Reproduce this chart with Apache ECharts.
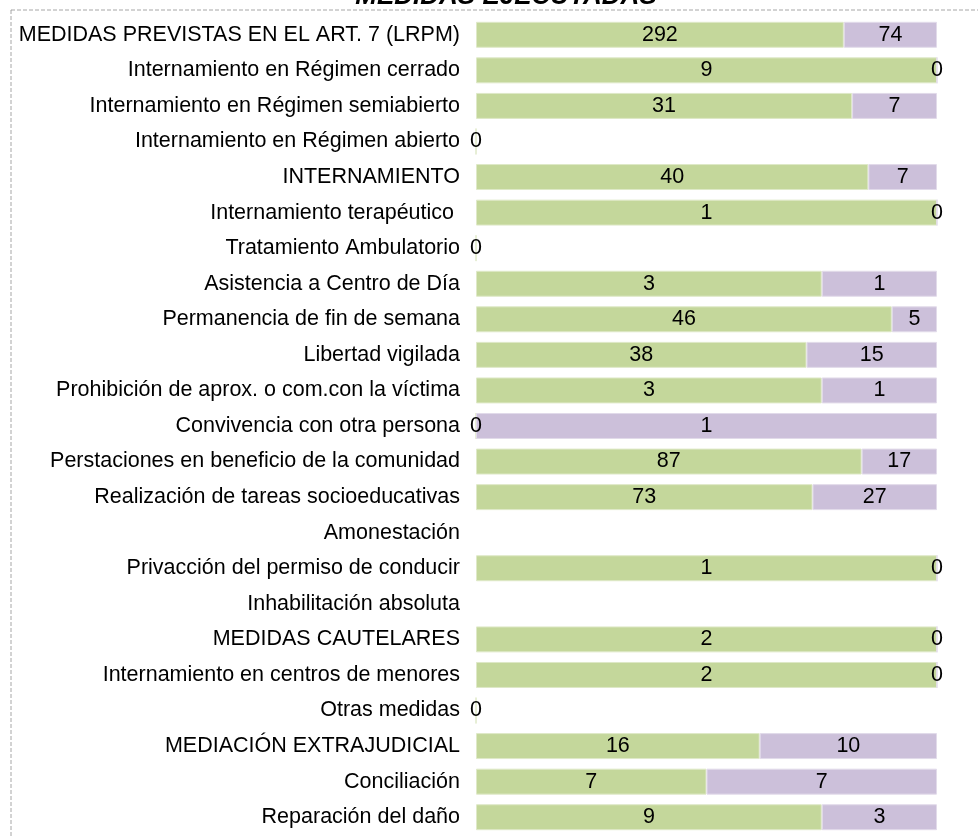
<!DOCTYPE html>
<html>
<head>
<meta charset="utf-8">
<script src="https://cdn.jsdelivr.net/npm/echarts@6/dist/echarts.min.js"></script>
<style>
  html, body { margin: 0; padding: 0; background: #fff; }
  #chart { width: 978px; height: 836px; }
</style>
</head>
<body>
<div id="chart"></div>
<script>
const categories = [
  'MEDIDAS PREVISTAS EN EL ART. 7 (LRPM)',
  'Internamiento en Régimen cerrado',
  'Internamiento en Régimen semiabierto',
  'Internamiento en Régimen abierto',
  'INTERNAMIENTO',
  'Internamiento terapéutico ',
  'Tratamiento Ambulatorio',
  'Asistencia a Centro de Día',
  'Permanencia de fin de semana',
  'Libertad vigilada',
  'Prohibición de aprox. o com.con la víctima',
  'Convivencia con otra persona',
  'Perstaciones en beneficio de la comunidad',
  'Realización de tareas socioeducativas',
  'Amonestación',
  'Privacción del permiso de conducir',
  'Inhabilitación absoluta',
  'MEDIDAS CAUTELARES',
  'Internamiento en centros de menores',
  'Otras medidas',
  'MEDIACIÓN EXTRAJUDICIAL',
  'Conciliación',
  'Reparación del daño'
]
const greenValues = [292, 9, 31, 0, 40, 1, 0, 3, 46, 38, 3, 0, 87, 73, null, 1, null, 2, 2, 0, 16, 7, 9]
const purpleValues = [74, 0, 7, null, 7, 0, null, 1, 5, 15, 1, 1, 17, 27, null, 0, null, 0, 0, null, 10, 7, 3]

const font = 'Liberation Sans, Arial, sans-serif'
const fontSize = 21.5

// 100% stacked: bar length is the share, label is the raw count
function share(values, i) {
  const v = values[i]
  if (v === null) return null
  const total = (greenValues[i] || 0) + (purpleValues[i] || 0)
  return { value: total ? v / total * 100 : 0, raw: v }
}

const chart = echarts.init(document.getElementById('chart'))
chart.setOption({
  animation: false,
  graphic: [
    {
      type: 'rect',
      shape: { x: 11, y: 10, width: 1000, height: 1000 },
      style: { fill: 'none', stroke: '#a6a6a6', lineWidth: 1, lineDash: [4, 2] },
      z: -1
    },
    {
      type: 'text',
      x: 506,
      y: -3,
      style: {
        text: 'MEDIDAS EJECUTADAS',
        font: 'italic bold 26px ' + font,
        fill: '#000',
        textAlign: 'center',
        textVerticalAlign: 'middle'
      }
    }
  ],
  grid: { left: 476, right: 41, top: 17, bottom: 1, containLabel: false },
  xAxis: {
    type: 'value',
    min: 0,
    max: 100,
    show: false
  },
  yAxis: {
    type: 'category',
    inverse: true,
    data: categories,
    axisLine: { show: false },
    axisTick: { show: false },
    splitLine: { show: false },
    axisLabel: { color: '#000', fontFamily: font, fontSize: fontSize, margin: 16 }
  },
  series: [
    {
      name: 'green',
      type: 'bar',
      stack: 'total',
      barCategoryGap: '27%',
      data: greenValues.map((v, i) => share(greenValues, i)),
      itemStyle: { color: '#c4d79b', borderColor: '#dfe9c8', borderWidth: 1 },
      label: {
        show: true,
        position: 'inside',
        color: '#000',
        fontFamily: font,
        fontSize: fontSize,
        formatter: p => p.data.raw
      }
    },
    {
      name: 'purple',
      type: 'bar',
      stack: 'total',
      barCategoryGap: '27%',
      data: purpleValues.map((v, i) => share(purpleValues, i)),
      itemStyle: { color: '#ccc0da', borderColor: '#e2dbea', borderWidth: 1 },
      label: {
        show: true,
        position: 'inside',
        color: '#000',
        fontFamily: font,
        fontSize: fontSize,
        formatter: p => p.data.raw
      }
    }
  ]
})
</script>
</body>
</html>
